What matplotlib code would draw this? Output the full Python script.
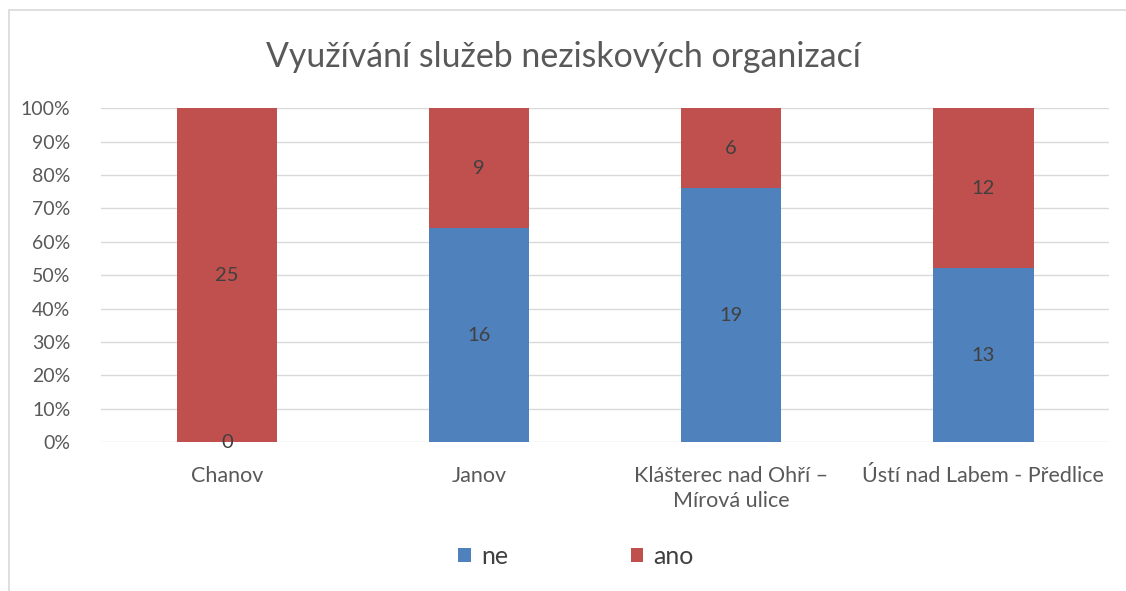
import numpy as np
from matplotlib import pyplot as plt
from matplotlib.patches import Rectangle

plt.rcParams['font.family'] = ['Lato', 'DejaVu Sans']

kategorie = ["Chanov", "Janov", "Klášterec nad Ohří –\nMírová ulice", "Ústí nad Labem - Předlice"]
ne = [0, 16, 19, 13]
ano = [25, 9, 6, 12]

ne = np.array(ne, dtype=float)
ano = np.array(ano, dtype=float)
celkem = ne + ano
ne_pct = ne / celkem * 100
ano_pct = ano / celkem * 100

fig = plt.figure(figsize=(11.26, 5.91), dpi=100)
ax = fig.add_axes([0.0897, 0.252, 0.8953, 0.565])

x = np.arange(len(kategorie))
b1 = ax.bar(x, ne_pct, width=0.4, color='#4f81bd', label='ne', zorder=2)
b2 = ax.bar(x, ano_pct, width=0.4, bottom=ne_pct, color='#c0504d', label='ano', zorder=2)

for i in range(len(x)):
    ax.text(x[i], ne_pct[i] / 2, "%d" % ne[i], ha='center', va='center', fontsize=14.5, color='#404040', zorder=3)
    ax.text(x[i], ne_pct[i] + ano_pct[i] / 2, "%d" % ano[i], ha='center', va='center', fontsize=14.5, color='#404040', zorder=3)

ax.set_xlim(-0.5, len(x) - 0.5)
ax.set_ylim(0, 100)
ax.set_yticks(np.arange(0, 101, 10))
ax.set_yticklabels(["%d%%" % v for v in range(0, 101, 10)])
ax.set_xticks(x)
ax.set_xticklabels(kategorie, linespacing=1.35)
ax.tick_params(axis='both', length=0, labelcolor='#595959')
ax.tick_params(axis='x', pad=17, labelsize=15.5)
ax.tick_params(axis='y', pad=22, labelsize=14)
ax.grid(axis='y', color='#d9d9d9', linewidth=1, zorder=0)
for s in ax.spines.values():
    s.set_visible(False)

fig.text(0.5, 0.903, "Využívání služeb neziskových organizací", ha='center', va='center', fontsize=24.4, color='#595959')

leg = fig.legend(handles=[b1, b2], loc='center', bbox_to_anchor=(0.5115, 0.058), ncol=2, frameon=False,
                 fontsize=18, handlelength=0.5, handleheight=0.5, handletextpad=0.4, columnspacing=4.9)
for t in leg.get_texts():
    t.set_color('#404040')

fig.patches.append(Rectangle((0.008, -0.02), 1.1, 1.003, transform=fig.transFigure, fill=False,
                             edgecolor='#d9d9d9', linewidth=1.2))

fig.savefig("out.png", dpi=100)
